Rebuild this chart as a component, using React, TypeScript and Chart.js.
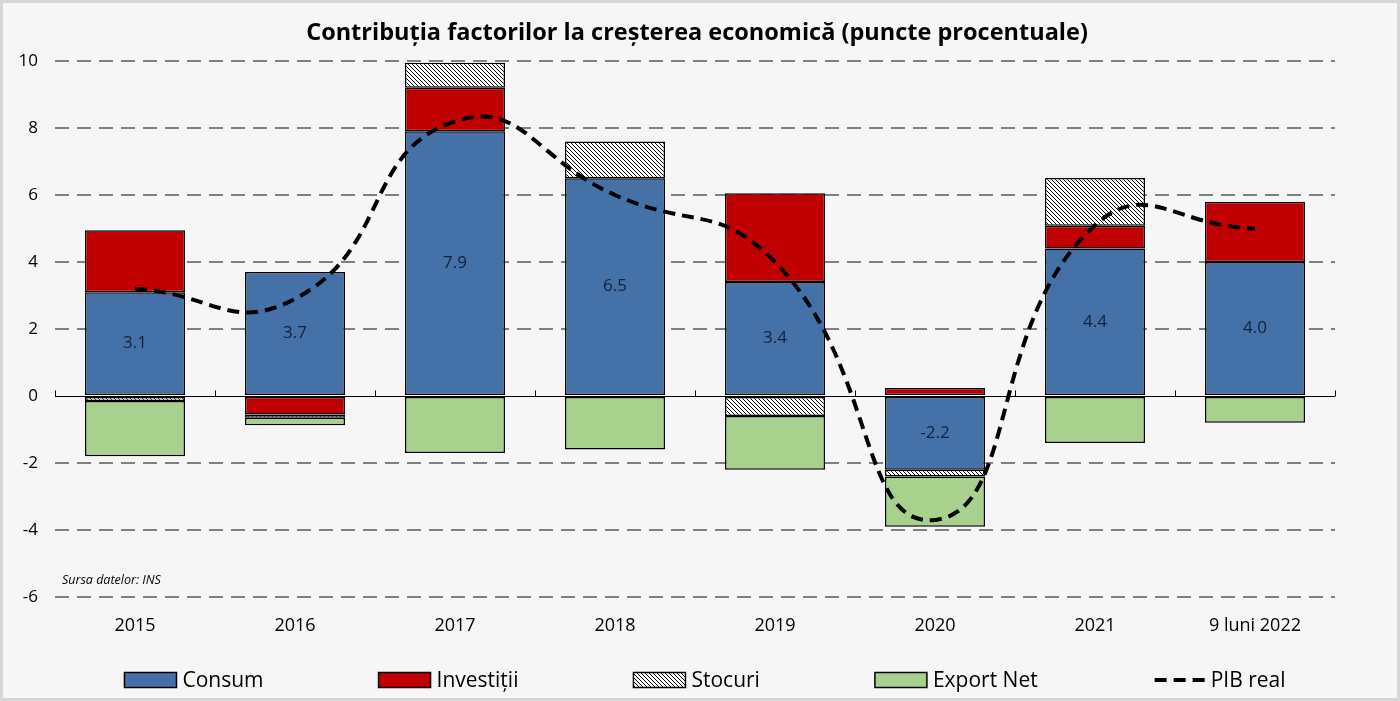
import React, { useEffect, useRef } from "react";
import { Chart, registerables } from "chart.js";

Chart.register(...registerables);

const FONT = "'Open Sans', 'Noto Sans', sans-serif";
const TITLE = "Contribuția factorilor la creșterea economică (puncte procentuale)";

const categories = ["2015", "2016", "2017", "2018", "2019", "2020", "2021", "9 luni 2022"];
const consum = [3.1, 3.7, 7.9, 6.5, 3.4, -2.2, 4.4, 4.0];
const investitii = [1.85, -0.55, 1.3, null, 2.65, 0.24, 0.68, 1.8];
const stocuri = [-0.15, -0.1, 0.75, 1.1, -0.6, -0.2, 1.43, null];
const exportNet = [-1.65, -0.22, -1.7, -1.6, -1.6, -1.5, -1.4, -0.8];
const pibReal = [3.2, 2.9, 8.2, 6.0, 4.0, -3.7, 5.1, 5.0];
const seriesLabels = ["Consum", "Investiții", "Stocuri", "Export Net", "PIB real"];
const yMin = -6;
const yMax = 10;
const yStep = 2;
const sourceNote = "Sursa datelor: INS";

const BLUE = "#4472a8";
const RED = "#c00000";
const GREEN = "#a9d18e";

function makeHatch(ctx: CanvasRenderingContext2D): CanvasPattern | string {
  const c = document.createElement("canvas");
  c.width = 4;
  c.height = 4;
  const g = c.getContext("2d");
  if (!g) return "#ccc";
  g.fillStyle = "#ffffff";
  g.fillRect(0, 0, 4, 4);
  g.strokeStyle = "#000000";
  g.lineWidth = 1;
  g.beginPath();
  g.moveTo(0, 0);
  g.lineTo(4, 4);
  g.moveTo(-1, 3);
  g.lineTo(1, 5);
  g.moveTo(3, -1);
  g.lineTo(5, 1);
  g.stroke();
  return ctx.createPattern(c, "repeat") || "#ccc";
}

const backgroundPlugin = {
  id: "bg",
  beforeDraw(chart: any) {
    const ctx = chart.ctx;
    ctx.save();
    ctx.fillStyle = "#f6f6f6";
    ctx.fillRect(0, 0, chart.width, chart.height);
    ctx.strokeStyle = "#d6d6d6";
    ctx.lineWidth = 3;
    ctx.strokeRect(1.5, 1.5, chart.width - 3, chart.height - 3);
    ctx.restore();
  },
};

const titlePlugin = {
  id: "customTitle",
  afterDraw(chart: any) {
    const ctx = chart.ctx;
    ctx.save();
    ctx.font = `bold 23.5px ${FONT}`;
    ctx.fillStyle = "#000";
    ctx.textAlign = "center";
    ctx.textBaseline = "middle";
    ctx.fillText(TITLE, chart.width / 2 - 3, 33);
    ctx.restore();
  },
};

const zeroAxisPlugin = {
  id: "zeroAxis",
  beforeDatasetsDraw(chart: any) {
    const { ctx, chartArea, scales } = chart;
    const y0 = Math.round(scales.y.getPixelForValue(0)) + 0.5;
    ctx.save();
    ctx.strokeStyle = "#000";
    ctx.lineWidth = 1;
    ctx.beginPath();
    ctx.moveTo(chartArea.left, y0);
    ctx.lineTo(chartArea.right, y0);
    const n = categories.length;
    for (let i = 0; i <= n; i++) {
      let bx: number;
      if (i === 0) bx = chartArea.left;
      else if (i === n) bx = chartArea.right;
      else bx = (scales.x.getPixelForValue(i - 1) + scales.x.getPixelForValue(i)) / 2;
      bx = Math.round(bx) + 0.5;
      ctx.moveTo(bx, y0);
      ctx.lineTo(bx, y0 - 6);
    }
    ctx.stroke();
    ctx.restore();
  },
};

const labelsPlugin = {
  id: "valueLabels",
  afterDatasetsDraw(chart: any) {
    const ctx = chart.ctx;
    const meta = chart.getDatasetMeta(0);
    ctx.save();
    ctx.font = `17px ${FONT}`;
    ctx.fillStyle = "#13203a";
    ctx.textAlign = "center";
    ctx.textBaseline = "middle";
    meta.data.forEach((bar: any, i: number) => {
      const p = bar.getProps(["x", "y", "base"], true);
      ctx.fillText(consum[i].toFixed(1), p.x, (p.y + p.base) / 2);
    });
    ctx.restore();
  },
};

const legendPlugin = {
  id: "customLegend",
  afterDraw(chart: any) {
    const ctx = chart.ctx;
    ctx.save();
    ctx.font = `21px ${FONT}`;
    const sw = 52;
    const sh = 15;
    const gapText = 6;
    const gapItem = 115;
    const ds = chart.data.datasets;
    const widths = ds.map((d: any) => sw + gapText + ctx.measureText(d.label).width);
    const total = widths.reduce((a: number, b: number) => a + b, 0) + gapItem * (ds.length - 1);
    let x = chart.width / 2 + 5 - total / 2;
    const yc = chart.height - 21;
    ds.forEach((d: any, i: number) => {
      if (d.type === "line") {
        ctx.save();
        ctx.strokeStyle = "#000";
        ctx.lineWidth = 4;
        ctx.setLineDash([12, 7]);
        ctx.beginPath();
        ctx.moveTo(x + 2, yc);
        ctx.lineTo(x + sw, yc);
        ctx.stroke();
        ctx.restore();
      } else {
        ctx.fillStyle = d.backgroundColor;
        ctx.fillRect(x, yc - sh / 2, sw, sh);
        ctx.strokeStyle = "#000";
        ctx.lineWidth = 1.5;
        ctx.strokeRect(x, yc - sh / 2, sw, sh);
      }
      ctx.fillStyle = "#000";
      ctx.textAlign = "left";
      ctx.textBaseline = "middle";
      ctx.fillText(d.label, x + sw + gapText, yc + 1);
      x += widths[i] + gapItem;
    });
    ctx.restore();
  },
};

const notePlugin = {
  id: "note",
  afterDraw(chart: any) {
    const ctx = chart.ctx;
    ctx.save();
    ctx.font = `italic 12.5px ${FONT}`;
    ctx.fillStyle = "#000";
    ctx.textAlign = "left";
    ctx.textBaseline = "middle";
    ctx.fillText(sourceNote, chart.chartArea.left + 7, chart.scales.y.getPixelForValue(yMin) - 17);
    ctx.restore();
  },
};

export default function App() {
  const ref = useRef<HTMLCanvasElement | null>(null);

  useEffect(() => {
    document.body.style.margin = "0";
    const canvas = ref.current;
    if (!canvas) return;
    const ctx = canvas.getContext("2d");
    if (!ctx) return;
    const hatch = makeHatch(ctx);
    const barCommon = {
      borderColor: "#000",
      borderWidth: 1.5,
      borderSkipped: false,
      categoryPercentage: 0.625,
      barPercentage: 1,
      order: 1,
      stack: "main",
    };
    const chart = new Chart(ctx, {
      type: "bar",
      data: {
        labels: categories,
        datasets: [
          { ...barCommon, type: "bar", label: seriesLabels[0], data: consum, backgroundColor: BLUE },
          { ...barCommon, type: "bar", label: seriesLabels[1], data: investitii, backgroundColor: RED },
          { ...barCommon, type: "bar", label: seriesLabels[2], data: stocuri, backgroundColor: hatch },
          { ...barCommon, type: "bar", label: seriesLabels[3], data: exportNet, backgroundColor: GREEN },
          {
            type: "line",
            label: seriesLabels[4],
            data: pibReal,
            borderColor: "#000",
            borderWidth: 4,
            borderDash: [12, 7],
            pointRadius: 0,
            tension: 0.5,
            fill: false,
            order: 0,
            stack: "pib",
          },
        ] as any,
      },
      options: {
        animation: false,
        responsive: true,
        maintainAspectRatio: false,
        layout: { padding: { left: 0, right: 65, top: 61, bottom: 60 } },
        plugins: {
          legend: { display: false },
          tooltip: { enabled: false },
          title: { display: false },
        },
        scales: {
          x: {
            stacked: true,
            grid: { display: false, drawTicks: false },
            border: { display: false },
            ticks: { color: "#000", font: { family: FONT, size: 18 }, padding: 18 },
            afterFit: (s: any) => {
              s.height = 44;
            },
          },
          y: {
            stacked: true,
            min: yMin,
            max: yMax,
            ticks: { stepSize: yStep, color: "#000", font: { family: FONT, size: 17 }, padding: 17 },
            grid: {
              color: (c: any) => (c.tick && c.tick.value === 0 ? "rgba(0,0,0,0)" : "#808080"),
              lineWidth: 2,
              drawTicks: false,
            },
            border: { display: false, dash: [14, 8] },
            afterFit: (s: any) => {
              s.width = 55;
            },
          },
        },
      } as any,
      plugins: [backgroundPlugin, zeroAxisPlugin, labelsPlugin, legendPlugin, notePlugin, titlePlugin],
    });
    return () => chart.destroy();
  }, []);

  return (
    <div style={{ width: 1400, height: 701, position: "relative" }}>
      <canvas ref={ref} />
    </div>
  );
}
